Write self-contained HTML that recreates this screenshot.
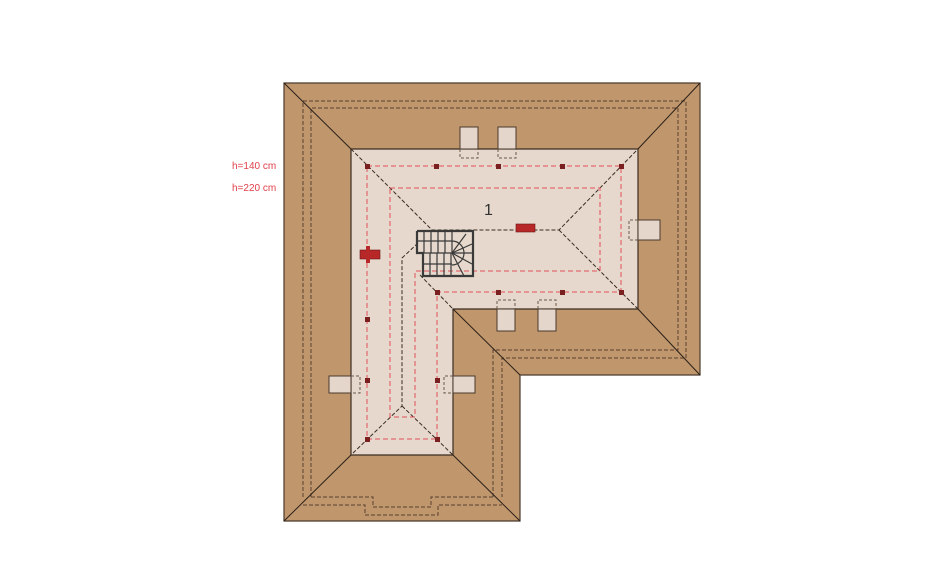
<!DOCTYPE html>
<html><head><meta charset="utf-8"><style>html,body{margin:0;padding:0;background:#fff}svg{display:block}</style></head><body>
<svg width="940" height="587" viewBox="0 0 940 587" xmlns="http://www.w3.org/2000/svg">
<rect width="940" height="587" fill="#fff"/>
<text x="232" y="169" font-family="Liberation Sans Narrow, Liberation Sans, sans-serif" font-size="10" fill="#e0404a">h=140 cm</text>
<text x="232" y="191" font-family="Liberation Sans Narrow, Liberation Sans, sans-serif" font-size="10" fill="#e0404a">h=220 cm</text>
<polygon points="284,83 700,83 700,375 520,375 520,521 284,521" fill="#c0966c" stroke="#4a3a2c" stroke-width="1.2"/>
<g fill="none" stroke="#5a4030" stroke-width="1" stroke-dasharray="4,2">
<polyline points="303,497 303,101 686,101 686,358 502,358 502,497"/>
<polyline points="311,497 311,108 678,108 678,350 493,350 493,497"/>
<polyline points="311,497 373,497 373,507 431,507 431,497 493,497"/>
<polyline points="303,505 365,505 365,515 438,515 438,505 502,505"/>
</g>
<polygon points="351,149 638,149 638,309 453,309 453,455 351,455" fill="#e6d8cc" stroke="#3a2c20" stroke-width="1.2"/>
<!-- dormers: solid part on roof, dashed part on light area -->
<g fill="#e4d6ca" stroke="#4a3a2c" stroke-width="1">
<rect x="460" y="127" width="18" height="22"/><rect x="498" y="127" width="18" height="22"/>
<rect x="638" y="220" width="22" height="20"/>
<rect x="497" y="309" width="18" height="22"/><rect x="538" y="309" width="18" height="22"/>
<rect x="329" y="376" width="22" height="17"/><rect x="453" y="376" width="22" height="17"/>
</g>
<g fill="none" stroke="#6a5a4c" stroke-width="1" stroke-dasharray="3,2">
<polyline points="460,149 460,158 478,158 478,149"/><polyline points="498,149 498,158 516,158 516,149"/>
<polyline points="638,220 629,220 629,240 638,240"/>
<polyline points="497,309 497,300 515,300 515,309"/><polyline points="538,309 538,300 556,300 556,309"/>
<polyline points="351,376 360,376 360,393 351,393"/><polyline points="453,376 444,376 444,393 453,393"/>
</g>
<g stroke="#2a2018" stroke-width="1">
<line x1="284" y1="83" x2="351" y2="149"/><line x1="700" y1="83" x2="638" y2="149"/>
<line x1="700" y1="375" x2="638" y2="309"/><line x1="520" y1="375" x2="453" y2="309"/>
<line x1="284" y1="521" x2="351" y2="455"/><line x1="520" y1="521" x2="453" y2="455"/>
</g>
<g fill="none" stroke="#3a2c20" stroke-width="1" stroke-dasharray="4,2">
<polyline points="351,149 432,230 559,230 638,149"/>
<line x1="559" y1="230" x2="638" y2="309"/>
<polyline points="418,243 402,258 402,406 351,455"/>
<line x1="402" y1="406" x2="453" y2="455"/>
<line x1="420" y1="275" x2="453" y2="309"/>
</g>
<g fill="none" stroke="#e0505a" stroke-width="1" stroke-dasharray="5,3">
<polygon points="367,166 621,166 621,292 437,292 437,439 367,439"/>
<polygon points="390,188 600,188 600,271 415,271 415,417 390,417"/>
</g>
<g fill="#7a2020">
<rect x="365" y="164" width="5" height="5"/><rect x="434" y="164" width="5" height="5"/><rect x="496" y="164" width="5" height="5"/><rect x="560" y="164" width="5" height="5"/><rect x="619" y="164" width="5" height="5"/>
<rect x="619" y="290" width="5" height="5"/><rect x="560" y="290" width="5" height="5"/><rect x="496" y="290" width="5" height="5"/><rect x="435" y="290" width="5" height="5"/>
<rect x="365" y="317" width="5" height="5"/><rect x="365" y="378" width="5" height="5"/><rect x="435" y="378" width="5" height="5"/>
<rect x="365" y="437" width="5" height="5"/><rect x="435" y="437" width="5" height="5"/>
</g>
<rect x="516" y="224" width="19" height="8" fill="#b82828" stroke="#6a1818" stroke-width="0.6"/>
<rect x="360" y="250" width="20" height="9" fill="#b82828" stroke="#6a1818" stroke-width="0.6"/>
<rect x="366" y="246" width="4" height="17" fill="#b82828"/>
<g fill="none" stroke="#3a3a3a" stroke-width="2.2">
<polyline points="417,231 473,231 473,276 423,276 423,253 417,253 417,231"/>
</g>
<g stroke="#3a3a3a" stroke-width="1.2">
<line x1="417" y1="241" x2="452" y2="241"/>
<line x1="423" y1="253" x2="452" y2="253"/>
<line x1="423" y1="264" x2="452" y2="264"/>
<line x1="424" y1="231" x2="424" y2="253"/><line x1="431" y1="231" x2="431" y2="253"/><line x1="438" y1="231" x2="438" y2="253"/><line x1="445" y1="231" x2="445" y2="253"/><line x1="452" y1="231" x2="452" y2="253"/>
<line x1="430" y1="253" x2="430" y2="276"/><line x1="437" y1="253" x2="437" y2="276"/><line x1="444" y1="253" x2="444" y2="276"/><line x1="451" y1="253" x2="451" y2="276"/>
<line x1="452" y1="253" x2="473" y2="253"/><line x1="452" y1="253" x2="466" y2="234"/><line x1="452" y1="253" x2="472" y2="244"/><line x1="452" y1="253" x2="472" y2="264"/><line x1="452" y1="253" x2="464" y2="276"/>
<path d="M452,241 A12,12 0 0 1 452,265" fill="none"/>
</g>
<text x="484" y="215" font-family="Liberation Sans Narrow, Liberation Sans, sans-serif" font-size="16" fill="#333">1</text>
</svg>
</body></html>
